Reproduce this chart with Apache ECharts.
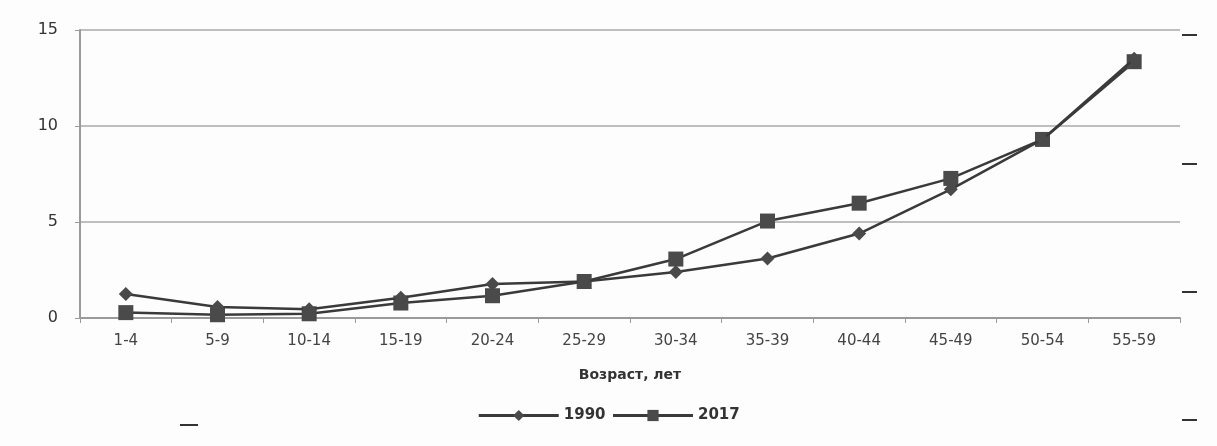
<!DOCTYPE html>
<html><head><meta charset="utf-8">
<script src="https://cdn.jsdelivr.net/npm/echarts@6/dist/echarts.min.js"></script>
<style>html,body{margin:0;padding:0;background:#fdfdfd}#c{width:1217px;height:446px}</style>
</head><body><div id="c"></div>
<script>
const categories = ['1-4','5-9','10-14','15-19','20-24','25-29','30-34','35-39','40-44','45-49','50-54','55-59'];
const s1990 = [1.25,0.57,0.45,1.05,1.77,1.9,2.4,3.1,4.4,6.7,9.3,13.5];
const s2017 = [0.28,0.17,0.22,0.78,1.16,1.9,3.07,5.05,5.98,7.27,9.3,13.35];
const yTicks = [0,5,10,15];

const chart = echarts.init(document.getElementById('c'));
const lineCol = '#3a3a3a';
chart.setOption({
  backgroundColor: '#fdfdfd',
  animation: false,
  grid: {left: 80, right: 37, top: 30, bottom: 128},
  xAxis: {
    type: 'category', data: categories, boundaryGap: true,
    name: 'Возраст, лет', nameLocation: 'middle', nameGap: 50,
    nameTextStyle: {fontFamily: 'DejaVu Sans', fontSize: 14, fontWeight: 'bold', color: '#333'},
    axisLine: {lineStyle: {color: '#9a9a9a', width: 2}},
    axisTick: {show: true, alignWithLabel: false, length: 5, lineStyle: {color: '#9a9a9a'}},
    axisLabel: {fontFamily: 'DejaVu Sans', fontSize: 15, color: '#444', margin: 16}
  },
  yAxis: {
    type: 'value', min: 0, max: 15, interval: 5,
    axisLine: {show: true, lineStyle: {color: '#9a9a9a', width: 2}},
    axisTick: {show: true, length: 5, lineStyle: {color: '#9a9a9a'}},
    axisLabel: {fontFamily: 'DejaVu Sans', fontSize: 16, color: '#333', margin: 22,
      formatter: v => yTicks.includes(v) ? String(v) : ''},
    splitLine: {lineStyle: {color: '#a8a8a8', width: 1.5}}
  },
  legend: {
    bottom: 18, left: 'center', itemWidth: 80, itemHeight: 14, itemGap: 6,
    lineStyle: {width: 3},
    textStyle: {fontFamily: 'DejaVu Sans', fontSize: 15, fontWeight: 'bold', color: '#333'},
    data: ['1990', '2017']
  },
  graphic: [
    {type: 'line', shape: {x1: 1182, y1: 35, x2: 1197, y2: 35}, style: {stroke: '#333', lineWidth: 2}},
    {type: 'line', shape: {x1: 1182, y1: 164, x2: 1197, y2: 164}, style: {stroke: '#333', lineWidth: 2}},
    {type: 'line', shape: {x1: 1182, y1: 292, x2: 1197, y2: 292}, style: {stroke: '#333', lineWidth: 2}},
    {type: 'line', shape: {x1: 1182, y1: 420, x2: 1197, y2: 420}, style: {stroke: '#333', lineWidth: 2}},
    {type: 'line', shape: {x1: 180, y1: 425, x2: 198, y2: 425}, style: {stroke: '#333', lineWidth: 2}}
  ],
  series: [
    {name: '1990', type: 'line', data: s1990, symbol: 'diamond', symbolSize: 14,
      lineStyle: {color: lineCol, width: 2.5}, itemStyle: {color: '#4a4a4a'}, z: 3},
    {name: '2017', type: 'line', data: s2017, symbol: 'rect', symbolSize: 15,
      lineStyle: {color: lineCol, width: 2.5}, itemStyle: {color: '#4a4a4a'}, z: 2}
  ]
});
</script></body></html>
